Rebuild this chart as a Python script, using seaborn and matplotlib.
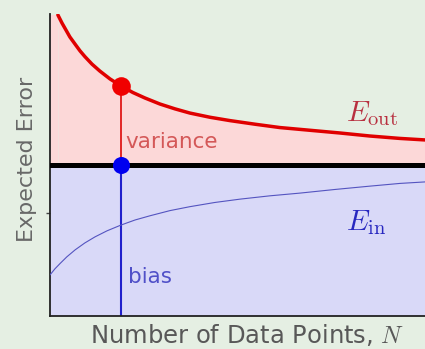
import matplotlib
matplotlib.use("Agg")
import matplotlib.pyplot as plt
import pandas as pd
import seaborn as sns

# Learning-curve readings (N scaled to [0, 1], error scaled to [0, 1])
n_out = [0.021, 0.032, 0.043, 0.053, 0.067, 0.080, 0.093, 0.112, 0.133, 0.160,
         0.189, 0.221, 0.253, 0.293, 0.333, 0.373, 0.427, 0.480, 0.547, 0.613,
         0.693, 0.773, 0.853, 0.933, 1.000]
e_out = [0.997, 0.970, 0.946, 0.924, 0.900, 0.878, 0.859, 0.834, 0.811, 0.785,
         0.762, 0.740, 0.722, 0.702, 0.686, 0.672, 0.658, 0.647, 0.635, 0.624,
         0.615, 0.606, 0.596, 0.588, 0.583]
n_in = [0.000, 0.013, 0.027, 0.045, 0.067, 0.093, 0.120, 0.152, 0.189, 0.227,
        0.267, 0.320, 0.373, 0.440, 0.507, 0.587, 0.667, 0.760, 0.853, 0.933, 1.000]
e_in = [0.136, 0.156, 0.174, 0.196, 0.219, 0.242, 0.262, 0.282, 0.301, 0.318,
        0.332, 0.349, 0.362, 0.376, 0.387, 0.398, 0.407, 0.419, 0.430, 0.439, 0.444]
bias_level = 0.5
marked_idx = 10  # sample point where bias and variance are shown
ytick_pos = [0.341]

df_out = pd.DataFrame({"N": n_out, "err": e_out})
df_in = pd.DataFrame({"N": n_in, "err": e_in})

sns.set_theme(style="white")
plt.rcParams["mathtext.fontset"] = "cm"
plt.rcParams["font.family"] = ["DejaVu Sans"]

bg = "#e5efe3"
fig = plt.figure(figsize=(4.25, 3.49), dpi=100, facecolor=bg)
ax = fig.add_axes([50 / 425, 33 / 349, 375 / 425, 302 / 349])
ax.set_facecolor(bg)
ax.set_xlim(0, 1)
ax.set_ylim(0, 1)

n_mark = n_out[marked_idx]
e_mark = e_out[marked_idx]

# shaded regions: bias below the black line, variance between it and E_out
ax.axhspan(0, bias_level, color="#d9d9f8", lw=0, zorder=0)
ax.fill_between(df_out["N"], bias_level, df_out["err"], color="#fcd8d8", lw=0, zorder=0)
ax.fill_between([0, n_out[0]], bias_level, e_out[0], color="#fcd8d8", lw=0, zorder=0)

ax.axhline(bias_level, color="black", lw=3.6, zorder=3)

sns.lineplot(data=df_out, x="N", y="err", color="#e00000", lw=2.5, ax=ax, zorder=4)
sns.lineplot(data=df_in, x="N", y="err", color="#5454c0", lw=0.8, ax=ax, zorder=4)

ax.plot([n_mark, n_mark], [bias_level, e_mark], color="#e01818", lw=1.3, zorder=2)
ax.plot([n_mark, n_mark], [0, bias_level], color="#2020cc", lw=1.5, zorder=2)

sns.scatterplot(x=[n_mark], y=[e_mark], color="#f00000", s=180, linewidth=0, ax=ax, zorder=5)
sns.scatterplot(x=[n_mark], y=[bias_level], color="#0000f0", s=150, linewidth=0, ax=ax, zorder=5)

ax.text(n_mark + 0.012, 0.576, "variance", color="#d45858",
        fontsize=15.5, va="center", ha="left")
ax.text(n_mark + 0.018, 0.13, "bias", color="#5050c8", fontsize=15.5,
        va="center", ha="left")
ax.text(0.788, 0.672, r"$E_{\rm out}$", color="#b83040", fontsize=21, va="center", ha="left")
ax.text(0.788, 0.308, r"$E_{\rm in}$", color="#2828c0", fontsize=21, va="center", ha="left")

for side in ("top", "right"):
    ax.spines[side].set_visible(False)
for side in ("left", "bottom"):
    ax.spines[side].set_color("#222222")
    ax.spines[side].set_linewidth(1.3)
ax.set_xticks([])
ax.set_yticks(ytick_pos)
ax.set_yticklabels([])
ax.tick_params(axis="y", direction="out", length=3, width=1, color="#444444", left=True)

ax.set_xlabel("Number of Data Points, $N$", fontsize=17.5, color="#585858")
ax.set_ylabel("Expected Error", fontsize=16, color="#686868")
ax.xaxis.set_label_coords(0.525, -0.02)
ax.yaxis.set_label_coords(-0.035, 0.52)

fig.savefig("out.png", dpi=100, facecolor=bg)
